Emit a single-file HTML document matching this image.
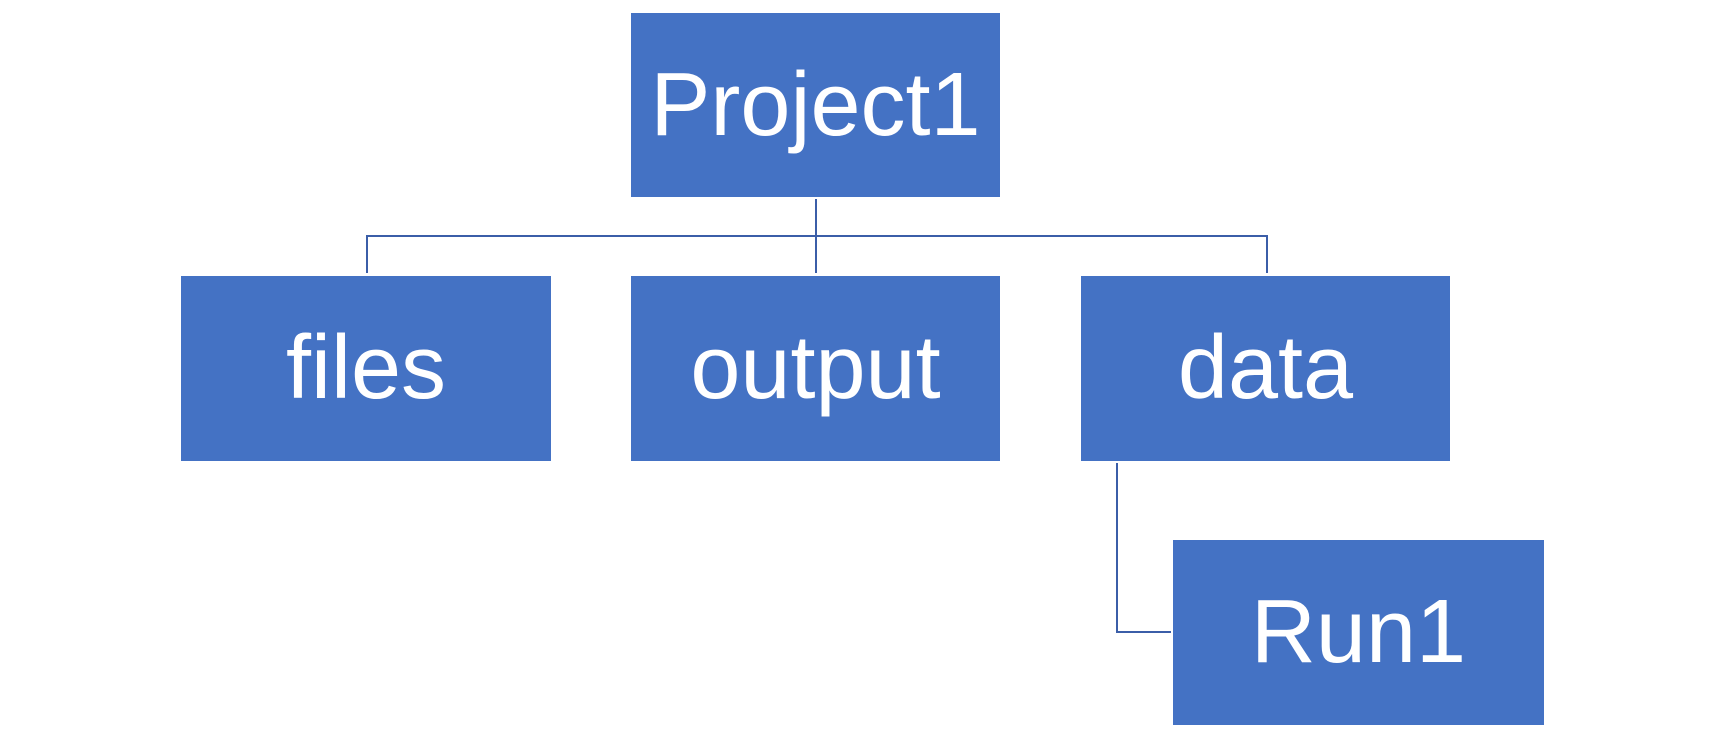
<!DOCTYPE html>
<html><head><meta charset="utf-8"><style>
html,body{margin:0;padding:0;background:#fff;}
body{width:1724px;height:754px;position:relative;overflow:hidden;font-family:"Liberation Sans",sans-serif;}
.b{position:absolute;background:#4472C4;color:#fff;display:flex;align-items:center;justify-content:center;font-size:90px;}
.l{position:absolute;background:#3B5EA8;}
</style></head><body>
<div class="b" style="left:631px;top:13px;width:369px;height:184px;">Project1</div>
<div class="b" style="left:181px;top:276px;width:370px;height:185px;">files</div>
<div class="b" style="left:631px;top:276px;width:369px;height:185px;">output</div>
<div class="b" style="left:1081px;top:276px;width:369px;height:185px;">data</div>
<div class="b" style="left:1173px;top:540px;width:371px;height:185px;">Run1</div>
<div class="l" style="left:815px;top:199px;width:2px;height:74px;"></div>
<div class="l" style="left:366px;top:235px;width:902px;height:2px;"></div>
<div class="l" style="left:366px;top:235px;width:2px;height:38px;"></div>
<div class="l" style="left:1266px;top:235px;width:2px;height:38px;"></div>
<div class="l" style="left:1116px;top:463px;width:2px;height:170px;"></div>
<div class="l" style="left:1116px;top:631px;width:55px;height:2px;"></div>
</body></html>
